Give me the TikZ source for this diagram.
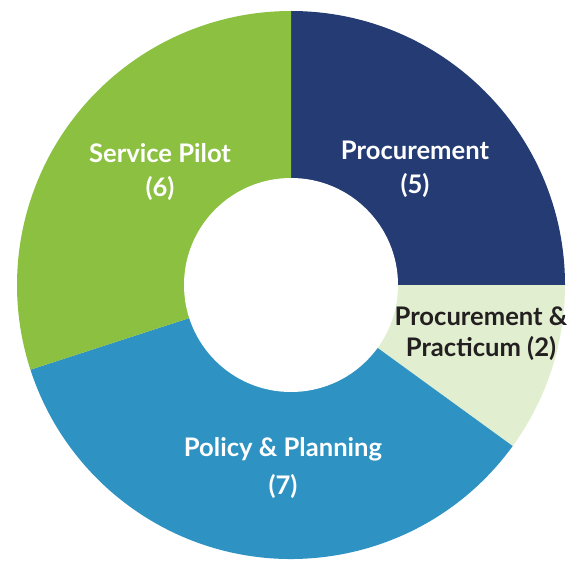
\documentclass[tikz,border=0pt]{standalone}
\usepackage{fontspec}
\setmainfont{Lato}
\usetikzlibrary{calc}

\definecolor{procnavy}{HTML}{243C73}
\definecolor{practlight}{HTML}{E1EED0}
\definecolor{policyblue}{HTML}{2E93C3}
\definecolor{pilotgreen}{HTML}{8BC040}
\definecolor{labeldark}{HTML}{231F20}

\begin{document}
\begin{tikzpicture}[x=1pt,y=1pt,
    slicelabel/.style={font=\bfseries\fontsize{25.6}{#1}\selectfont, align=center, text=white},
    slicelabel/.default=34]
    \useasboundingbox (0,0) rectangle (575,-561);
    \coordinate (c) at (291,-285);
    % slices, clockwise from the top
    \foreach \a/\b/\col in {90/0/procnavy, 0/-36/practlight, -36/-162/policyblue, -162/-270/pilotgreen}
        \fill[\col] (c) -- ++(\a:274) arc[start angle=\a, end angle=\b, radius=274] -- cycle;
    \fill[white] (c) circle[radius=107];
    % labels
    \node[slicelabel] (proc) at (415,-169) {Procurement\\(5)};
    \node[slicelabel=31, text=labeldark] (pract) at (481,-334) {Procurement \&\\Practicum (2)};
    \node[slicelabel=38] (policy) at (283,-468) {Policy \& Planning\\(7)};
    \node[slicelabel] (pilot) at (160,-172) {Service Pilot\\(6)};
\end{tikzpicture}
\end{document}
